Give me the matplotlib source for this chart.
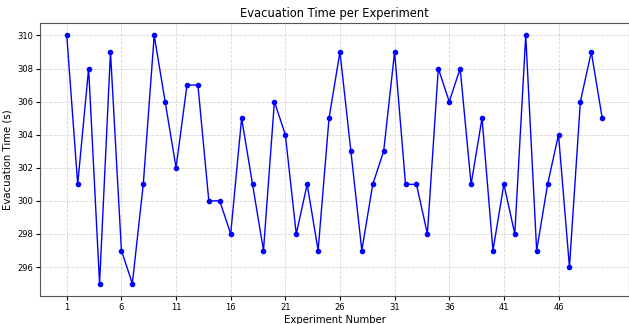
import numpy as np
import matplotlib
matplotlib.use("Agg")
import matplotlib.pyplot as plt

experiments = np.arange(1, 51)
evac_times = [310, 301, 308, 295, 309, 297, 295, 301, 310, 306,
              302, 307, 307, 300, 300, 298, 305, 301, 297, 306,
              304, 298, 301, 297, 305, 309, 303, 297, 301, 303,
              309, 301, 301, 298, 308, 306, 308, 301, 305, 297,
              301, 298, 310, 297, 301, 304, 296, 306, 309, 305]
xticks = np.arange(1, 51, 5)

fig = plt.figure(figsize=(6.29, 3.24), dpi=100)
ax = fig.add_axes([40 / 629, 28 / 324, 589 / 629, 273 / 324])
ax.plot(experiments, evac_times, 'o-', color='blue', linewidth=1.0, markersize=3)

ax.set_title('Evacuation Time per Experiment', fontsize=8.3, pad=4)
ax.set_xlabel('Experiment Number', fontsize=7.3, labelpad=2)
ax.set_ylabel('Evacuation Time (s)', fontsize=7.3, labelpad=3)
ax.set_xticks(xticks)
ax.tick_params(labelsize=6, length=3, pad=2)
ax.grid(True, linestyle='--', alpha=0.5, linewidth=0.6)
for s in ax.spines.values():
    s.set_color('#555555')

fig.savefig('out.png', dpi=100)
